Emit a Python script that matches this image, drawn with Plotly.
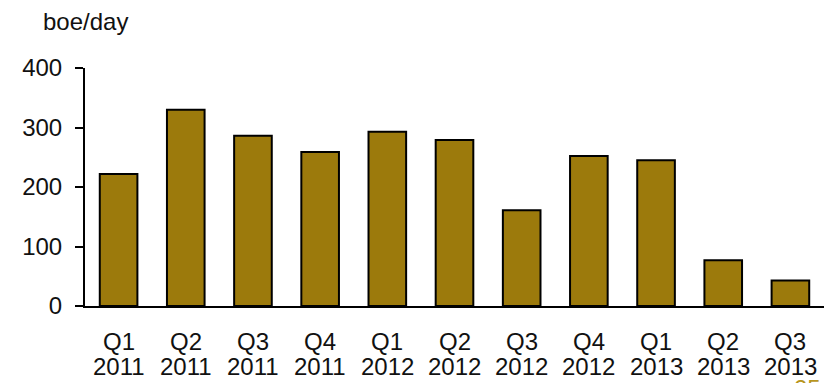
import plotly.graph_objects as go

quarter_labels = ["Q1", "Q2", "Q3", "Q4", "Q1", "Q2", "Q3", "Q4", "Q1", "Q2", "Q3"]
year_labels = ["2011", "2011", "2011", "2011", "2012", "2012", "2012", "2012",
               "2013", "2013", "2013"]
boe_per_day = [222, 330, 286, 259, 293, 279, 161, 252, 245, 77, 43]
y_ticks = [0, 100, 200, 300, 400]

categories = [f"{q} {y}" for q, y in zip(quarter_labels, year_labels)]

W, H = 827, 383
ML, MR, MT, MB = 85, 3, 68, 77
PW, PH = W - ML - MR, H - MT - MB

def px_x(x):
    return (x - ML) / PW

def px_y(y):
    return (H - MB - y) / PH

FAMILY = "Liberation Sans, Arial, sans-serif"
font = dict(family=FAMILY, size=24, color="#111111")

fig = go.Figure(go.Bar(
    x=categories, y=boe_per_day,
    marker=dict(color="#9C7A0C", line=dict(color="black", width=2)),
    width=0.56,
))

annotations = [
    dict(text="boe/day", xref="paper", yref="paper",
         x=px_x(41), y=px_y(21), xanchor="left", yanchor="middle",
         showarrow=False, font=font),
    dict(text="25", xref="paper", yref="paper",
         x=px_x(792), y=px_y(373), xanchor="left", yanchor="top",
         showarrow=False, font=dict(family=FAMILY, size=24, color="#B8961E")),
]
for cat, q, yr in zip(categories, quarter_labels, year_labels):
    annotations.append(dict(text=q, xref="x", yref="paper", x=cat, y=px_y(341),
                            xanchor="center", yanchor="middle", showarrow=False, font=font))
    annotations.append(dict(text=yr, xref="x", yref="paper", x=cat, y=px_y(366),
                            xanchor="center", yanchor="middle", showarrow=False, font=font))

fig.update_layout(
    width=W, height=H,
    margin=dict(l=ML, r=MR, t=MT, b=MB),
    plot_bgcolor="white", paper_bgcolor="white",
    showlegend=False,
    font=font,
    xaxis=dict(
        showline=True, linecolor="black", linewidth=2,
        ticks="", showgrid=False, zeroline=False,
        showticklabels=False,
    ),
    yaxis=dict(
        range=[0, 400], tickvals=y_ticks,
        showline=True, linecolor="black", linewidth=2,
        ticks="outside", ticklen=8, tickwidth=2, tickcolor="black",
        showgrid=False, zeroline=False,
        tickfont=font, ticklabelstandoff=8,
    ),
    annotations=annotations,
)

fig.write_html("out.html")
